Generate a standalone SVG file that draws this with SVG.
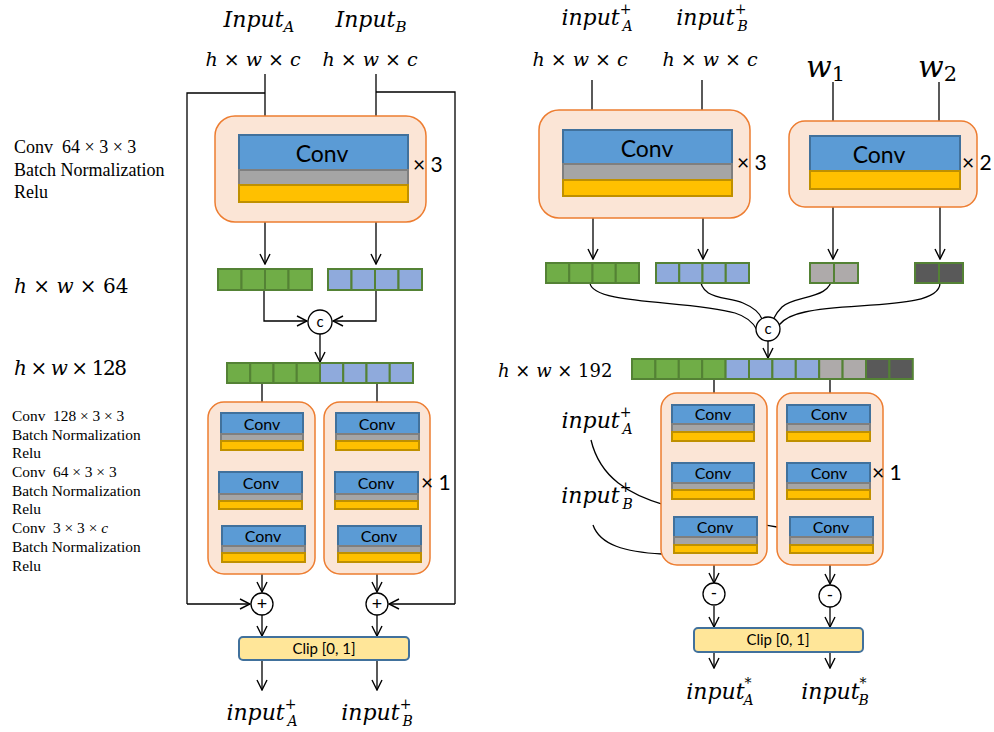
<svg xmlns="http://www.w3.org/2000/svg" width="994" height="732" viewBox="0 0 994 732">
  <style>
    .bg { fill: #ffffff; }
    .block { fill: #FBE5D6; stroke: #ED7D31; stroke-width: 1.5; }
    .cv { fill: #5B9BD5; stroke: #41719C; stroke-width: 2; }
    .bn { fill: #A5A5A5; stroke: #7F7F7F; stroke-width: 2; }
    .re { fill: #FFC000; stroke: #BF9000; stroke-width: 2; }
    .cg { fill: #70AD47; stroke: #548235; stroke-width: 2; }
    .cb { fill: #8FAADC; stroke: #548235; stroke-width: 2; }
    .cl { fill: #AEAAAA; stroke: #548235; stroke-width: 2; }
    .cd { fill: #595959; stroke: #548235; stroke-width: 2; }
    .clip { fill: #FFE699; stroke: #41719C; stroke-width: 2; }
    .op { fill: #ffffff; stroke: #000000; stroke-width: 1.3; }
    .ln { fill: none; stroke: #000000; stroke-width: 1.3; }
    .ar { fill: none; stroke: #000000; stroke-width: 1.3; marker-end: url(#arr); }
    .t-conv { font-family: Lato, "Liberation Sans", sans-serif; fill: #000; text-anchor: middle; }
    .t-math { font-family: "DejaVu Serif", "Liberation Serif", serif; fill: #000; }
    .it { font-style: italic; }
    .t-note { font-family: "Liberation Serif", serif; fill: #000; }
    .t-rep { font-family: Lato, "Liberation Sans", sans-serif; fill: #000; font-size: 21px; }
  </style>
  <defs>
    <marker id="arr" viewBox="0 0 12 12" refX="11" refY="6" markerWidth="12" markerHeight="12" markerUnits="userSpaceOnUse" orient="auto">
      <path d="M1,1 L11,6 L1,11" fill="none" stroke="#000" stroke-width="1.4"/>
    </marker>
  </defs>
  <rect class="bg" x="0" y="0" width="994" height="732"/>

  <!-- ===== Left network: annotations ===== -->
  <g id="notes-left">
    <text class="t-note" font-size="18" x="14" y="153" xml:space="preserve">Conv  64 × 3 × 3</text>
    <text class="t-note" font-size="18" x="14" y="176">Batch Normalization</text>
    <text class="t-note" font-size="18" x="14" y="198">Relu</text>
    <text class="t-math" font-size="20" x="14" y="293"><tspan class="it">h</tspan> × <tspan class="it">w</tspan> × 64</text>
    <text class="t-math" font-size="20" x="14" y="375" textLength="113" lengthAdjust="spacing"><tspan class="it">h</tspan> × <tspan class="it">w</tspan> × 128</text>
    <g class="t-note" font-size="15.4">
      <text x="12" y="421" xml:space="preserve">Conv  128 × 3 × 3</text>
      <text x="12" y="440">Batch Normalization</text>
      <text x="12" y="458">Relu</text>
      <text x="12" y="477" xml:space="preserve">Conv  64 × 3 × 3</text>
      <text x="12" y="496">Batch Normalization</text>
      <text x="12" y="514">Relu</text>
      <text x="12" y="533" xml:space="preserve">Conv  3 × 3 × <tspan font-style="italic">c</tspan></text>
      <text x="12" y="552">Batch Normalization</text>
      <text x="12" y="571">Relu</text>
    </g>
  </g>

  <!-- ===== Left network: inputs ===== -->
  <g id="in-a">
    <text class="t-math it" font-size="22" x="259" y="27" text-anchor="middle">Input<tspan font-size="15" dy="5">A</tspan></text>
    <text class="t-math" font-size="19" x="253" y="66" text-anchor="middle"><tspan class="it">h</tspan> × <tspan class="it">w</tspan> × <tspan class="it">c</tspan></text>
  </g>
  <g id="in-b">
    <text class="t-math it" font-size="22" x="371" y="27" text-anchor="middle">Input<tspan font-size="15" dy="5">B</tspan></text>
    <text class="t-math" font-size="19" x="370" y="66" text-anchor="middle"><tspan class="it">h</tspan> × <tspan class="it">w</tspan> × <tspan class="it">c</tspan></text>
  </g>

  <!-- ===== Left network: connectors ===== -->
  <g id="connectors-left">
    <polyline class="ln" points="265,74 265,116"/>
    <polyline class="ln" points="376,74 376,116"/>
    <polyline class="ln" points="265,93 187,93 187,604"/>
    <polyline class="ln" points="376,92 455,92 455,604"/>
    <line class="ar" x1="187" y1="604" x2="250" y2="604"/>
    <line class="ar" x1="455" y1="604" x2="389" y2="604"/>
    <line class="ar" x1="265" y1="222" x2="265" y2="264"/>
    <line class="ar" x1="376" y1="222" x2="376" y2="264"/>
    <polyline class="ar" points="264,290 264,321 307,321"/>
    <polyline class="ar" points="376,290 376,321 333,321"/>
    <line class="ar" x1="320" y1="334" x2="320" y2="362"/>
    <line class="ar" x1="262" y1="383" x2="262" y2="412"/>
    <line class="ar" x1="377" y1="383" x2="377" y2="412"/>
    <line class="ar" x1="262" y1="450" x2="262" y2="470"/>
    <line class="ar" x1="262" y1="509" x2="262" y2="524"/>
    <line class="ar" x1="377" y1="450" x2="377" y2="470"/>
    <line class="ar" x1="377" y1="509" x2="377" y2="524"/>
    <line class="ar" x1="262" y1="562" x2="262" y2="592"/>
    <line class="ar" x1="377" y1="562" x2="377" y2="592"/>
    <line class="ar" x1="262" y1="615" x2="262" y2="636"/>
    <line class="ar" x1="377" y1="615" x2="377" y2="636"/>
    <line class="ar" x1="262" y1="660" x2="262" y2="690"/>
    <line class="ar" x1="377" y1="660" x2="377" y2="690"/>
  </g>

  <!-- ===== Left network: nodes ===== -->
  <g id="enc-left">
    <rect class="block" x="215" y="116" width="211" height="106" rx="20"/>
    <rect class="cv" x="239" y="135" width="169" height="35"/>
    <rect class="bn" x="239" y="170" width="169" height="15"/>
    <rect class="re" x="239" y="185" width="169" height="17"/>
    <text class="t-conv" font-size="23" x="322" y="162">Conv</text>
    <text class="t-rep" x="413" y="172">× 3</text>
  </g>

  <g id="feat-a">
    <rect class="cg" x="218" y="269" width="23.5" height="21"/>
    <rect class="cg" x="241.5" y="269" width="23.5" height="21"/>
    <rect class="cg" x="265" y="269" width="23.5" height="21"/>
    <rect class="cg" x="288.5" y="269" width="23.5" height="21"/>
  </g>
  <g id="feat-b">
    <rect class="cb" x="328" y="269" width="23.5" height="21"/>
    <rect class="cb" x="351.5" y="269" width="23.5" height="21"/>
    <rect class="cb" x="375" y="269" width="23.5" height="21"/>
    <rect class="cb" x="398.5" y="269" width="23.5" height="21"/>
  </g>
  <g id="cat-left">
    <circle class="op" cx="320" cy="322" r="12"/>
    <text class="t-conv" font-size="15" x="320" y="327">c</text>
  </g>
  <g id="feat-cat-left">
    <rect class="cg" x="227" y="363" width="23.25" height="20"/>
    <rect class="cg" x="250.25" y="363" width="23.25" height="20"/>
    <rect class="cg" x="273.5" y="363" width="23.25" height="20"/>
    <rect class="cg" x="296.75" y="363" width="23.25" height="20"/>
    <rect class="cb" x="320" y="363" width="23.25" height="20"/>
    <rect class="cb" x="343.25" y="363" width="23.25" height="20"/>
    <rect class="cb" x="366.5" y="363" width="23.25" height="20"/>
    <rect class="cb" x="389.75" y="363" width="23.25" height="20"/>
  </g>

  <g id="dec-left-a">
    <rect class="block" x="208" y="402" width="107" height="172" rx="16"/>
    <rect class="cv" x="221" y="413" width="82" height="21"/>
    <rect class="bn" x="221" y="434" width="82" height="7"/>
    <rect class="re" x="221" y="441" width="82" height="9"/>
    <text class="t-conv" font-size="16" x="262" y="430">Conv</text>
    <rect class="cv" x="219" y="472" width="83" height="22"/>
    <rect class="bn" x="219" y="494" width="83" height="7"/>
    <rect class="re" x="219" y="501" width="83" height="8"/>
    <text class="t-conv" font-size="16" x="261" y="489">Conv</text>
    <rect class="cv" x="222" y="526" width="83" height="20"/>
    <rect class="bn" x="222" y="546" width="83" height="7"/>
    <rect class="re" x="222" y="553" width="83" height="9"/>
    <text class="t-conv" font-size="16" x="263" y="542">Conv</text>
  </g>
  <g id="dec-left-b">
    <rect class="block" x="324" y="402" width="106" height="172" rx="16"/>
    <rect class="cv" x="336" y="413" width="83" height="21"/>
    <rect class="bn" x="336" y="434" width="83" height="7"/>
    <rect class="re" x="336" y="441" width="83" height="9"/>
    <text class="t-conv" font-size="16" x="377" y="430">Conv</text>
    <rect class="cv" x="335" y="472" width="83" height="22"/>
    <rect class="bn" x="335" y="494" width="83" height="7"/>
    <rect class="re" x="335" y="501" width="83" height="8"/>
    <text class="t-conv" font-size="16" x="376" y="489">Conv</text>
    <rect class="cv" x="338" y="526" width="83" height="20"/>
    <rect class="bn" x="338" y="546" width="83" height="7"/>
    <rect class="re" x="338" y="553" width="83" height="9"/>
    <text class="t-conv" font-size="16" x="379" y="542">Conv</text>
    <text class="t-rep" x="421" y="490">× 1</text>
  </g>

  <g id="add-a">
    <circle class="op" cx="262" cy="604" r="11"/>
    <text class="t-conv" font-size="18" x="262" y="610">+</text>
  </g>
  <g id="add-b">
    <circle class="op" cx="377" cy="604" r="11"/>
    <text class="t-conv" font-size="18" x="377" y="610">+</text>
  </g>
  <g id="clip-left">
    <rect class="clip" x="239" y="637" width="170" height="23" rx="4"/>
    <text class="t-conv" font-size="15" x="324" y="654">Clip [0, 1]</text>
  </g>
  <g id="out-left-a">
    <text class="t-math it" font-size="22" x="262" y="720" text-anchor="middle">input<tspan font-size="14" dy="-11">+</tspan><tspan font-size="14" dx="-9" dy="17">A</tspan></text>
  </g>
  <g id="out-left-b">
    <text class="t-math it" font-size="22" x="377" y="720" text-anchor="middle">input<tspan font-size="14" dy="-11">+</tspan><tspan font-size="14" dx="-9" dy="17">B</tspan></text>
  </g>

  <!-- ===== Right network: inputs ===== -->
  <g id="in-r-a">
    <text class="t-math it" font-size="22" x="597" y="25" text-anchor="middle">input<tspan font-size="14" dy="-11">+</tspan><tspan font-size="14" dx="-9" dy="17">A</tspan></text>
    <text class="t-math" font-size="19" x="580" y="66" text-anchor="middle"><tspan class="it">h</tspan> × <tspan class="it">w</tspan> × <tspan class="it">c</tspan></text>
  </g>
  <g id="in-r-b">
    <text class="t-math it" font-size="22" x="712" y="25" text-anchor="middle">input<tspan font-size="14" dy="-11">+</tspan><tspan font-size="14" dx="-9" dy="17">B</tspan></text>
    <text class="t-math" font-size="19" x="710" y="66" text-anchor="middle"><tspan class="it">h</tspan> × <tspan class="it">w</tspan> × <tspan class="it">c</tspan></text>
  </g>
  <g id="in-w1">
    <text class="t-math" font-size="30" x="806" y="77"><tspan class="it">w</tspan><tspan font-size="21" dy="4">1</tspan></text>
  </g>
  <g id="in-w2">
    <text class="t-math" font-size="30" x="918" y="77"><tspan class="it">w</tspan><tspan font-size="21" dy="4">2</tspan></text>
  </g>
  <text class="t-math" font-size="18" x="498" y="377"><tspan class="it">h</tspan> × <tspan class="it">w</tspan> × 192</text>

  <!-- ===== Right network: connectors behind the blocks ===== -->
  <g id="connectors-right-back">
    <path class="ln" d="M591,440 C600,478 630,495 665,505 C700,515 740,520 777,527"/>
    <path class="ln" d="M593,525 C600,545 625,552 662,554"/>
  </g>

  <!-- ===== Right network: connectors ===== -->
  <g id="connectors-right">
    <line class="ln" x1="592" y1="80" x2="592" y2="110"/>
    <line class="ln" x1="702" y1="80" x2="702" y2="110"/>
    <line class="ln" x1="833" y1="82" x2="833" y2="121"/>
    <line class="ln" x1="939" y1="82" x2="939" y2="121"/>
    <line class="ar" x1="593" y1="218" x2="593" y2="259"/>
    <line class="ar" x1="703" y1="218" x2="703" y2="259"/>
    <line class="ar" x1="833" y1="207" x2="833" y2="259"/>
    <line class="ar" x1="940" y1="207" x2="940" y2="259"/>
    <path class="ln" d="M590,283 C592,305 690,300 735,313 C748,317 754,324 757,330"/>
    <path class="ln" d="M700,276 C700,300 725,296 743,303 C755,308 760,314 762,319"/>
    <path class="ln" d="M832,276 C832,300 795,295 782,307 C778,311 776,314 774,318"/>
    <path class="ln" d="M940,283 C940,310 850,302 805,312 C790,315 783,320 779,325"/>
    <line class="ar" x1="768" y1="341" x2="768" y2="358"/>
    <line class="ar" x1="714" y1="379" x2="714" y2="404"/>
    <line class="ar" x1="830" y1="379" x2="830" y2="404"/>
    <line class="ar" x1="714" y1="441" x2="714" y2="461"/>
    <line class="ar" x1="714" y1="499" x2="714" y2="516"/>
    <line class="ar" x1="830" y1="441" x2="830" y2="461"/>
    <line class="ar" x1="830" y1="499" x2="830" y2="516"/>
    <line class="ar" x1="714" y1="553" x2="714" y2="583"/>
    <line class="ar" x1="830" y1="553" x2="830" y2="584"/>
    <line class="ar" x1="714" y1="606" x2="714" y2="627"/>
    <line class="ar" x1="830" y1="607" x2="830" y2="627"/>
    <line class="ar" x1="714" y1="652" x2="714" y2="668"/>
    <line class="ar" x1="830" y1="652" x2="830" y2="668"/>
  </g>

  <!-- ===== Right network: nodes ===== -->
  <g id="enc-right">
    <rect class="block" x="539" y="110" width="211" height="108" rx="20"/>
    <rect class="cv" x="563" y="130" width="169" height="34"/>
    <rect class="bn" x="563" y="164" width="169" height="16"/>
    <rect class="re" x="563" y="180" width="169" height="16"/>
    <text class="t-conv" font-size="23" x="647" y="157">Conv</text>
    <text class="t-rep" x="737" y="170">× 3</text>
  </g>
  <g id="enc-weights">
    <rect class="block" x="789" y="121" width="188" height="86" rx="16"/>
    <rect class="cv" x="810" y="136" width="150" height="35"/>
    <rect class="re" x="810" y="171" width="150" height="18"/>
    <text class="t-conv" font-size="23" x="879" y="163">Conv</text>
    <text class="t-rep" x="962" y="170">× 2</text>
  </g>

  <g id="feat-r-a">
    <rect class="cg" x="546" y="263" width="23.25" height="20"/>
    <rect class="cg" x="569.25" y="263" width="23.25" height="20"/>
    <rect class="cg" x="592.5" y="263" width="23.25" height="20"/>
    <rect class="cg" x="615.75" y="263" width="23.25" height="20"/>
  </g>
  <g id="feat-r-b">
    <rect class="cb" x="656" y="263" width="23.25" height="20"/>
    <rect class="cb" x="679.25" y="263" width="23.25" height="20"/>
    <rect class="cb" x="702.5" y="263" width="23.25" height="20"/>
    <rect class="cb" x="725.75" y="263" width="23.25" height="20"/>
  </g>
  <g id="feat-w1">
    <rect class="cl" x="810" y="263" width="24" height="20"/>
    <rect class="cl" x="834" y="263" width="24" height="20"/>
  </g>
  <g id="feat-w2">
    <rect class="cd" x="915" y="263" width="24" height="20"/>
    <rect class="cd" x="939" y="263" width="24" height="20"/>
  </g>
  <g id="cat-right">
    <circle class="op" cx="768" cy="329" r="12"/>
    <text class="t-conv" font-size="15" x="768" y="334">c</text>
  </g>
  <g id="feat-cat-right">
    <rect class="cg" x="632" y="359" width="23.4" height="20"/>
    <rect class="cg" x="655.4" y="359" width="23.4" height="20"/>
    <rect class="cg" x="678.8" y="359" width="23.4" height="20"/>
    <rect class="cg" x="702.2" y="359" width="23.4" height="20"/>
    <rect class="cb" x="725.6" y="359" width="23.4" height="20"/>
    <rect class="cb" x="749" y="359" width="23.4" height="20"/>
    <rect class="cb" x="772.4" y="359" width="23.4" height="20"/>
    <rect class="cb" x="795.8" y="359" width="23.4" height="20"/>
    <rect class="cl" x="819.2" y="359" width="23.4" height="20"/>
    <rect class="cl" x="842.6" y="359" width="23.4" height="20"/>
    <rect class="cd" x="866" y="359" width="23.4" height="20"/>
    <rect class="cd" x="889.4" y="359" width="23.4" height="20"/>
  </g>

  <g id="note-skip">
    <text class="t-math it" font-size="22" x="597" y="428" text-anchor="middle">input<tspan font-size="14" dy="-11">+</tspan><tspan font-size="14" dx="-9" dy="17">A</tspan></text>
    <text class="t-math it" font-size="22" x="597" y="503" text-anchor="middle">input<tspan font-size="14" dy="-11">+</tspan><tspan font-size="14" dx="-9" dy="17">B</tspan></text>
  </g>

  <g id="dec-right-a">
    <rect class="block" x="661" y="393" width="106" height="172" rx="16"/>
    <rect class="cv" x="672" y="405" width="82" height="19"/>
    <rect class="bn" x="672" y="424" width="82" height="8"/>
    <rect class="re" x="672" y="432" width="82" height="9"/>
    <text class="t-conv" font-size="16" x="713" y="420">Conv</text>
    <rect class="cv" x="672" y="463" width="82" height="20"/>
    <rect class="bn" x="672" y="483" width="82" height="7"/>
    <rect class="re" x="672" y="490" width="82" height="9"/>
    <text class="t-conv" font-size="16" x="713" y="479">Conv</text>
    <rect class="cv" x="674" y="517" width="83" height="20"/>
    <rect class="bn" x="674" y="537" width="83" height="8"/>
    <rect class="re" x="674" y="545" width="83" height="8"/>
    <text class="t-conv" font-size="16" x="715" y="533">Conv</text>
  </g>
  <g id="dec-right-b">
    <rect class="block" x="777" y="393" width="106" height="172" rx="16"/>
    <rect class="cv" x="787" y="405" width="83" height="19"/>
    <rect class="bn" x="787" y="424" width="83" height="8"/>
    <rect class="re" x="787" y="432" width="83" height="9"/>
    <text class="t-conv" font-size="16" x="829" y="420">Conv</text>
    <rect class="cv" x="787" y="463" width="83" height="20"/>
    <rect class="bn" x="787" y="483" width="83" height="7"/>
    <rect class="re" x="787" y="490" width="83" height="9"/>
    <text class="t-conv" font-size="16" x="829" y="479">Conv</text>
    <rect class="cv" x="790" y="517" width="83" height="20"/>
    <rect class="bn" x="790" y="537" width="83" height="8"/>
    <rect class="re" x="790" y="545" width="83" height="8"/>
    <text class="t-conv" font-size="16" x="831" y="533">Conv</text>
    <text class="t-rep" x="872" y="480">× 1</text>
  </g>

  <g id="sub-a">
    <circle class="op" cx="714" cy="594" r="11"/>
    <text class="t-conv" font-size="17" x="714" y="599">-</text>
  </g>
  <g id="sub-b">
    <circle class="op" cx="830" cy="596" r="11"/>
    <text class="t-conv" font-size="17" x="830" y="601">-</text>
  </g>
  <g id="clip-right">
    <rect class="clip" x="694" y="628" width="169" height="24" rx="4"/>
    <text class="t-conv" font-size="15" x="778" y="645">Clip [0, 1]</text>
  </g>
  <g id="out-right-a">
    <text class="t-math it" font-size="22" x="720" y="699" text-anchor="middle">input<tspan font-size="14" dy="-11">*</tspan><tspan font-size="14" dx="-8" dy="17">A</tspan></text>
  </g>
  <g id="out-right-b">
    <text class="t-math it" font-size="22" x="835" y="699" text-anchor="middle">input<tspan font-size="14" dy="-11">*</tspan><tspan font-size="14" dx="-8" dy="17">B</tspan></text>
  </g>
</svg>
